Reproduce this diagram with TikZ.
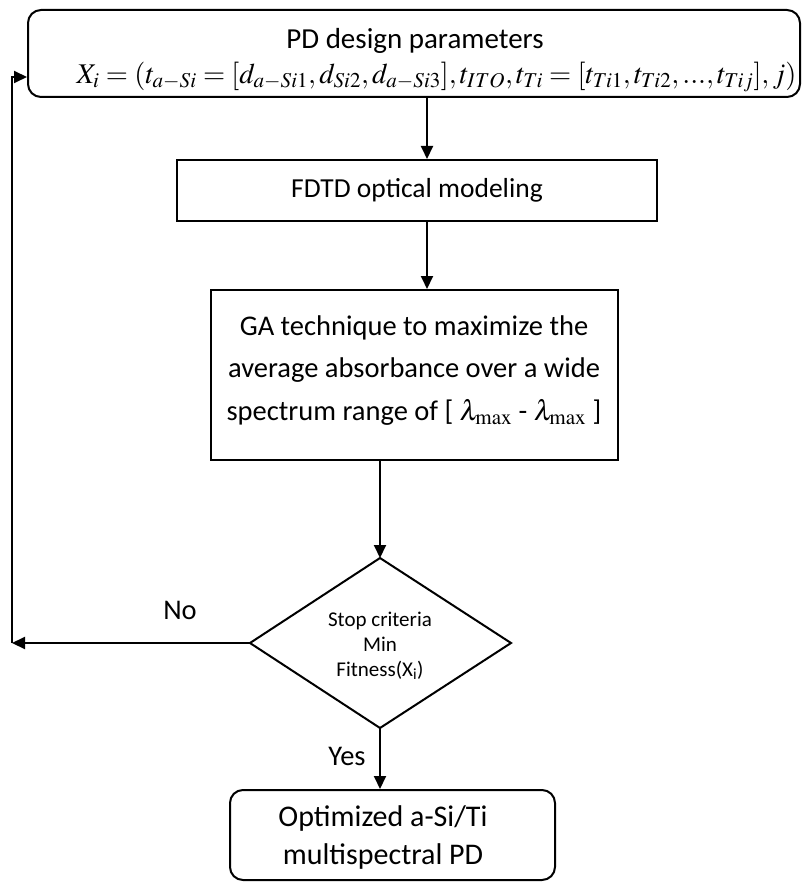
\documentclass[tikz,border=0pt]{standalone}
\usepackage{mathptmx}
\usepackage{fontspec}
\setmainfont{Carlito}
\usetikzlibrary{arrows.meta,shapes.geometric}
\begin{document}
\begin{tikzpicture}[x=1pt,y=-1pt,
  box/.style={draw,line width=2pt,inner sep=0pt,align=center},
  rbox/.style={box,rounded corners=13pt},
  arr/.style={line width=2pt,-{Triangle[length=13pt,width=12pt]}},
  txt/.style={font=\fontsize{28.5}{34}\selectfont}]
\useasboundingbox (0,0) rectangle (805,890);
% top box
\node[rbox,minimum width=772pt,minimum height=87pt] (top) at (414,53.5) {};
\node[font=\fontsize{29}{34}\selectfont] (toptitle) at (415,41) {PD design parameters};
\node[font=\fontsize{28.5}{33}\selectfont] (eq) at (436.5,77)
  {$X_i=(t_{a-Si}=[d_{a-Si1},d_{Si2},d_{a-Si3}],t_{ITO},t_{Ti}=[t_{Ti1},t_{Ti2},...,t_{Tij}],j)$};
% FDTD
\node[box,minimum width=480pt,minimum height=61pt,font=\fontsize{27.5}{32}\selectfont] (fdtd) at (417,190.5) {FDTD optical modeling};
% GA
\node[box,minimum width=407pt,minimum height=170pt] (ga) at (414.5,375) {};
\node[txt] (ga1) at (414,328) {GA technique to maximize the};
\node[txt] (ga2) at (414,370) {average absorbance over a wide};
\node[txt] (ga3) at (414,412) {spectrum range of [ $\lambda_{\mathrm{max}}$ - $\lambda_{\mathrm{max}}$ ]};
% diamond
\coordinate (dT) at (380,558);
\coordinate (dL) at (250,643);
\coordinate (dR) at (511,643);
\coordinate (dB) at (380,728);
\draw[line width=2pt] (dT) -- (dR) -- (dB) -- (dL) -- cycle;
\node[font=\fontsize{21}{25}\selectfont,align=center] (dtext) at (380,646) {Stop criteria\\Min\\Fitness(X\textsubscript{i})};
% final
\node[rbox,minimum width=325pt,minimum height=90pt] (final) at (392.5,835) {};
\node[align=center,font=\fontsize{30}{38}\selectfont] (fintext) at (383,837) {Optimized a-Si/Ti\\multispectral PD};
% arrows
\draw[arr] (top.south -| 427,0) -- (fdtd.north -| 427,0);
\draw[arr] (fdtd.south -| 427,0) -- (ga.north -| 427,0);
\draw[arr] (ga.south -| dT) -- (dT);
\coordinate (c1) at (12,643);
\coordinate (c2) at (12,77);
\draw[arr] (dL) -- (c1);
\draw[arr] (c1) -- (c2) -- (c2 -| top.west);
\node[txt] (no) at (180,610) {No};
\draw[arr] (dB) -- (dB |- final.north);
\node[txt] (yes) at (347,756) {Yes};
\end{tikzpicture}
\end{document}
